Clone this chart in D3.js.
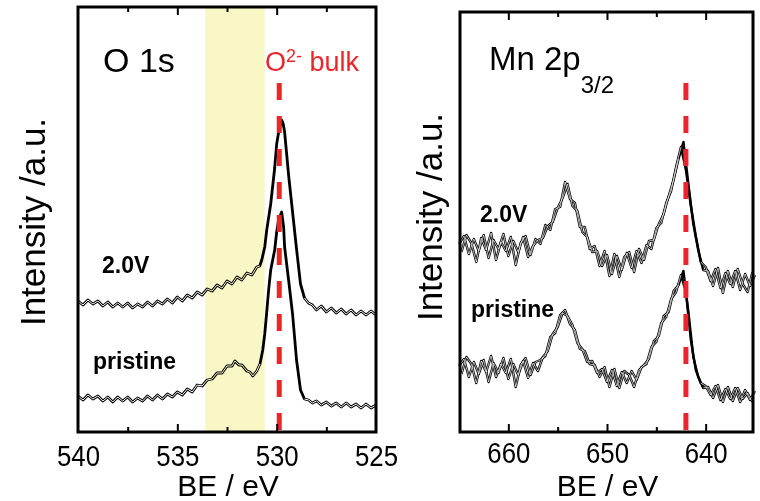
<!DOCTYPE html>
<html>
<head>
<meta charset="utf-8">
<script src="https://cdn.jsdelivr.net/npm/d3@7"></script>
<style>
  body { margin: 0; background: #fff; }
  text { font-family: "Liberation Sans", Arial, sans-serif; }
</style>
</head>
<body>
<script>
// O 1s spectra, [BE (eV), intensity (a.u.)]
var o1s2V = [[540.0,131],[539.75,127],[539.5,132],[539.25,128],[539.0,131],[538.75,126],[538.5,130],[538.25,125],[538.0,129],[537.75,125],[537.5,129],[537.25,124],[537.0,128],[536.75,125],[536.5,130],[536.25,126],[536.0,131],[535.75,128],[535.5,133],[535.25,129],[535.0,135],[534.75,131],[534.5,137],[534.25,134],[534.0,140],[533.75,137],[533.5,143],[533.25,141],[533.0,147],[532.75,144],[532.5,151],[532.25,148],[532.0,155],[531.75,152],[531.5,159],[531.25,157],[531.0,165],[530.85,166],[530.75,172],[530.6,185],[530.5,202],[530.3,228],[530.1,264],[530.0,288],[529.9,300],[529.75,312],[529.68,309],[529.6,300],[529.4,257],[529.2,220],[529.0,183],[528.8,148],[528.6,134],[528.4,129],[528.2,127],[528.0,122],[527.75,126],[527.5,120],[527.25,124],[527.0,119],[526.75,123],[526.5,118],[526.25,122],[526.0,117],[525.75,121],[525.5,117],[525.25,121],[525.0,117]];
var o1sPristine = [[540.0,36],[539.75,32],[539.5,37],[539.25,33],[539.0,36],[538.75,31],[538.5,35],[538.25,30],[538.0,35],[537.75,31],[537.5,35],[537.25,30],[537.0,34],[536.75,31],[536.5,36],[536.25,32],[536.0,37],[535.75,33],[535.5,38],[535.25,35],[535.0,40],[534.75,37],[534.5,43],[534.25,40],[534.0,47],[533.75,46],[533.5,52],[533.25,53],[533.0,59],[532.75,59],[532.5,66],[532.25,66],[532.1,71],[531.9,67],[531.75,67],[531.5,61],[531.35,60],[531.2,56],[531.0,61],[530.84,68],[530.7,82],[530.6,98],[530.5,120],[530.4,143],[530.3,162],[530.2,172],[530.1,182],[530.0,200],[529.9,212],[529.75,220],[529.65,205],[529.6,185],[529.4,152],[529.2,118],[529.0,72],[528.8,42],[528.6,33],[528.4,32],[528.2,29],[528.0,31],[527.75,27],[527.5,30],[527.25,26],[527.0,29],[526.75,25],[526.5,29],[526.25,25],[526.0,28],[525.75,24],[525.5,28],[525.25,24],[525.0,27]];

// Mn 2p spectra: two overlaid scans each, on interleaved BE grids
var mnBE = [665,664.5,664,663.5,663,662.5,662,661.5,661,660.5,660,659.5,659,658.5,658,657.5,657,656.5,656,655.5,655,654.5,654,653.5,653,652.5,652,651.5,651,650.5,650,649.5,649,648.5,648,647.5,647,646.5,646,645.5,645,644.5,644,643.5,643,642.5,642,641.5,641,640.5,640,639.5,639,638.5,638,637.5,637,636.5,636,635.5,635];
var mn2V = [188,196,178,193,181,197,174,192,183,198,176,191,180,195,175,186,192,194,206,210,224,234,248,226,221,200,195,180,181,166,177,158,176,162,179,164,181,169,187,183,204,209,229,241,265,285,262,226,196,170,165,151,163,144,159,148,161,142,158,146,157];
var mnPristine = [66,73,55,70,58,72,50,69,59,74,53,68,57,71,54,69,61,75,81,98,105,119,116,107,89,83,70,71,59,63,50,62,46,60,49,61,52,65,68,85,90,109,115,133,140,157,140,92,62,49,46,37,46,32,43,33,44,30,42,32,41];
var mnBE2 = [664.75,664.25,663.75,663.25,662.75,662.25,661.75,661.25,660.75,660.25,659.75,659.25,658.75,658.25,657.75,657.25,656.75,656.25,655.75,655.25,654.75,654.25,653.75,653.25,652.75,652.25,651.75,651.25,650.75,650.25,649.75,649.25,648.75,648.25,647.75,647.25,646.75,646.25,645.75,645.25,644.75,644.25,643.75,643.25,642.75,642.25,641.75,641.25,640.75,640.25,639.75,639.25,638.75,638.25,637.75,637.25,636.75,636.25,635.75,635.25];
var mn2Vb = [180,197,189,170,194,182,199,172,190,181,195,167,189,196,177,193,188,207,202,223,225,250,233,229,205,205,183,186,166,181,156,178,155,175,180,160,183,172,191,192,208,218,236,252,273,290,248,208,182,162,161,146,164,139,161,145,163,148,140,160];
var mnPristineB = [58,75,68,49,71,60,76,55,68,59,73,45,67,74,57,70,72,76,95,99,117,122,108,102,83,81,68,67,55,65,45,63,44,61,57,45,62,67,73,91,96,116,120,141,147,161,120,75,55,44,45,34,47,30,45,31,44,33,39,30];

var o1sLabels = [540, 535, 530, 525];
var o1sMajor = [535, 530];
var o1sMinor = [537.5, 532.5, 527.5];
var mnLabels = [660, 650, 640];
var mnMinor = [655, 645];

var svg = d3.select("body").append("svg")
    .attr("width", 760)
    .attr("height", 501);

function pairs(be, v) {
  return be.map(function(b, i) { return [b, v[i]]; });
}

function drawPanel(p) {
  var x = d3.scaleLinear().domain(p.xDomain).range([p.left, p.right]);
  var y = d3.scaleLinear().domain([0, p.bottom - p.top]).range([p.bottom, p.top]);
  var g = svg.append("g");
  var line = d3.line().x(function(d) { return x(d[0]); }).y(function(d) { return y(d[1]); });
  // white core only where the trace looks hollow (noisy parts)
  var core = d3.line().x(function(d) { return x(d[0]); }).y(function(d) { return y(d[1]); })
    .defined(p.hollow);

  p.series.forEach(function(s) {
    g.append("path").attr("d", line(s)).attr("fill", "none")
      .attr("stroke", "#000").attr("stroke-width", p.outer).attr("stroke-linejoin", "round");
  });
  p.series.forEach(function(s) {
    g.append("path").attr("d", core(s)).attr("fill", "none")
      .attr("stroke", "#fff").attr("stroke-width", p.inner).attr("stroke-linejoin", "round");
  });

  if (p.band) {
    g.append("rect")
      .attr("x", x(p.band[0])).attr("width", x(p.band[1]) - x(p.band[0]))
      .attr("y", p.top).attr("height", p.bottom - p.top)
      .attr("fill", "#f9f7c6")
      .style("mix-blend-mode", "multiply");
  }

  // reference line
  g.append("line")
    .attr("x1", x(p.ref)).attr("x2", x(p.ref))
    .attr("y1", 83).attr("y2", p.bottom)
    .attr("stroke", "#e8262b").attr("stroke-width", 5)
    .attr("stroke-dasharray", "17,16");

  // ticks, inward on top and bottom
  function ticks(axisFn, ty, vals, size, labelled, pad) {
    var a = axisFn(x).tickValues(vals).tickSize(-size).tickPadding(pad || 0)
      .tickFormat(labelled ? d3.format("d") : "");
    var ag = g.append("g").attr("transform", "translate(0," + ty + ")").call(a);
    ag.select(".domain").remove();
    ag.selectAll(".tick line").attr("stroke-width", 2);
    ag.selectAll(".tick text")
      .attr("font-size", 30)
      .attr("fill", "#000")
      .attr("font-family", "Liberation Sans, Arial, sans-serif")
      .attr("transform", "scale(0.86,1)");
    return ag;
  }
  ticks(d3.axisBottom, p.bottom, p.labels, 0, true, p.pad);
  ticks(d3.axisBottom, p.bottom, p.major, 8, false);
  ticks(d3.axisBottom, p.bottom, p.minor, 5, false);
  ticks(d3.axisTop, p.top, p.major, 8, false);
  ticks(d3.axisTop, p.top, p.minor, 5, false);

  g.append("rect")
    .attr("x", p.left).attr("y", p.top)
    .attr("width", p.right - p.left).attr("height", p.bottom - p.top)
    .attr("fill", "none").attr("stroke", "#000").attr("stroke-width", 3);

  g.append("text")
    .attr("x", (p.left + p.right) / 2 + 1).attr("y", p.xTitleY)
    .attr("text-anchor", "middle").attr("font-size", 30)
    .text("BE / eV");

  g.append("text")
    .attr("transform", "translate(" + p.yTitleX + "," + p.yTitleY + ")rotate(-90)")
    .attr("text-anchor", "middle").attr("font-size", 35)
    .text("Intensity /a.u.");

  p.tags.forEach(function(t) {
    g.append("text").attr("x", t[1]).attr("y", t[2])
      .attr("font-size", 23).attr("font-weight", "bold")
      .text(t[0]);
  });
  return g;
}

var left = drawPanel({
  xDomain: [540, 525], left: 78, right: 376, top: 7, bottom: 432,
  series: [o1s2V, o1sPristine], outer: 2.8, inner: 1.0,
  hollow: function(d) { return d[0] > 530.8 || d[0] < 528.7; },
  band: [533.6, 530.6], ref: 529.87,
  labels: o1sLabels, major: o1sMajor, minor: o1sMinor, pad: 13,
  xTitleY: 496, yTitleX: 45, yTitleY: 222,
  tags: [["2.0V", 102, 273], ["pristine", 93, 369]]
});

var right = drawPanel({
  xDomain: [664.9, 635.2], left: 460, right: 753, top: 12, bottom: 432,
  series: [pairs(mnBE, mn2V), pairs(mnBE2, mn2Vb), pairs(mnBE, mnPristine), pairs(mnBE2, mnPristineB)],
  outer: 2.4, inner: 0.7,
  hollow: function(d) { return d[0] > 642.3 || d[0] < 640.6; },
  ref: 642.0,
  labels: mnLabels, major: mnLabels, minor: mnMinor, pad: 10,
  xTitleY: 496, yTitleX: 442, yTitleY: 217,
  tags: [["2.0V", 480, 222], ["pristine", 471, 317]]
});

// panel titles
left.append("text").attr("x", 103).attr("y", 72).attr("font-size", 34).text("O 1s");

var bulk = left.append("text").attr("x", 265).attr("y", 71)
  .attr("font-size", 27).attr("fill", "#e8262b");
bulk.append("tspan").text("O");
bulk.append("tspan").attr("font-size", 18).attr("dy", -9).text("2-");
bulk.append("tspan").attr("dy", 9).text(" bulk");

var mn = right.append("text").attr("x", 489).attr("y", 70).attr("font-size", 33);
mn.append("tspan").text("Mn 2p");
mn.append("tspan").attr("font-size", 24).attr("dy", 23).text("3/2");
</script>
</body>
</html>
